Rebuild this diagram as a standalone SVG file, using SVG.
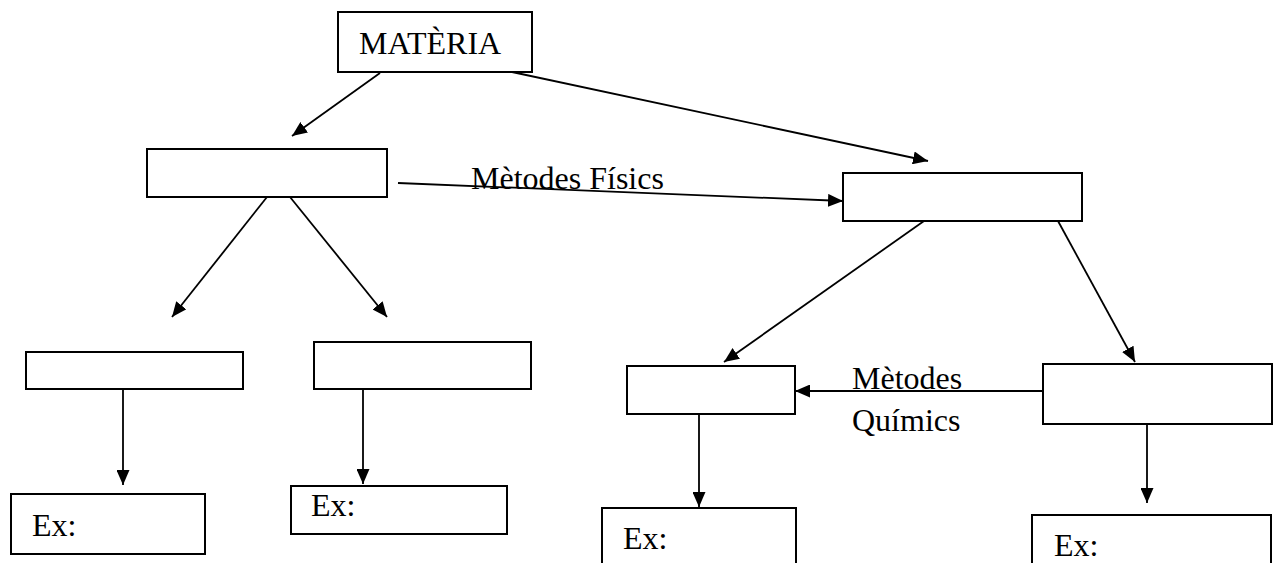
<svg xmlns="http://www.w3.org/2000/svg" width="1274" height="563" viewBox="0 0 1274 563">
<style>
.box{fill:#fff;stroke:#000;stroke-width:2}
.t{font-family:"Liberation Serif","Times New Roman",serif;font-size:32px;fill:#000}
.c{stroke:#000;stroke-width:1.8;fill:none;marker-end:url(#ah)}
</style>
<defs>
<marker id="ah" viewBox="0 0 15 13" refX="15" refY="6.5" markerWidth="15" markerHeight="13" markerUnits="userSpaceOnUse" orient="auto">
<path d="M0,0 L15,6.5 L0,13 z" fill="#000"/>
</marker>
</defs>
<rect width="1274" height="563" fill="#fff"/>
<g id="connectors">
<line class="c" x1="380" y1="73" x2="292" y2="136"/>
<line class="c" x1="512" y1="72" x2="928" y2="161"/>
<line class="c" x1="398" y1="183" x2="843" y2="201"/>
<line class="c" x1="267" y1="197" x2="172" y2="317"/>
<line class="c" x1="290" y1="197" x2="387" y2="317"/>
<line class="c" x1="924" y1="221" x2="724" y2="362"/>
<line class="c" x1="1058" y1="221" x2="1135" y2="362"/>
<line class="c" x1="123" y1="389" x2="123" y2="485"/>
<line class="c" x1="363" y1="389" x2="363" y2="484"/>
<line class="c" x1="699" y1="414" x2="699" y2="507"/>
<line class="c" x1="1147" y1="424" x2="1147" y2="503"/>
<line class="c" x1="1043" y1="391" x2="795" y2="391"/>
<text class="t" x="471" y="189">Mètodes Físics</text>
<text class="t" x="852" y="389">Mètodes</text>
<text class="t" x="852" y="431">Químics</text>
</g>
<g id="materia"><rect class="box" x="338" y="12" width="194" height="60"/><text class="t" x="359" y="54">MATÈRIA</text></g>
<g id="n-left"><rect class="box" x="147" y="149" width="240" height="48"/></g>
<g id="n-right"><rect class="box" x="843" y="173" width="239" height="48"/></g>
<g id="n-ll"><rect class="box" x="26" y="352" width="217" height="37"/></g>
<g id="n-lr"><rect class="box" x="314" y="342" width="217" height="47"/></g>
<g id="n-rl"><rect class="box" x="627" y="366" width="168" height="48"/></g>
<g id="n-rr"><rect class="box" x="1043" y="364" width="229" height="60"/></g>
<g id="ex1"><rect class="box" x="11" y="494" width="194" height="60"/><text class="t" x="32" y="536">Ex:</text></g>
<g id="ex2"><rect class="box" x="291" y="486" width="216" height="48"/><text class="t" x="311" y="516">Ex:</text></g>
<g id="ex3"><rect class="box" x="602" y="508" width="194" height="70"/><text class="t" x="623" y="549">Ex:</text></g>
<g id="ex4"><rect class="box" x="1032" y="515" width="239" height="70"/><text class="t" x="1054" y="556">Ex:</text></g>
</svg>
